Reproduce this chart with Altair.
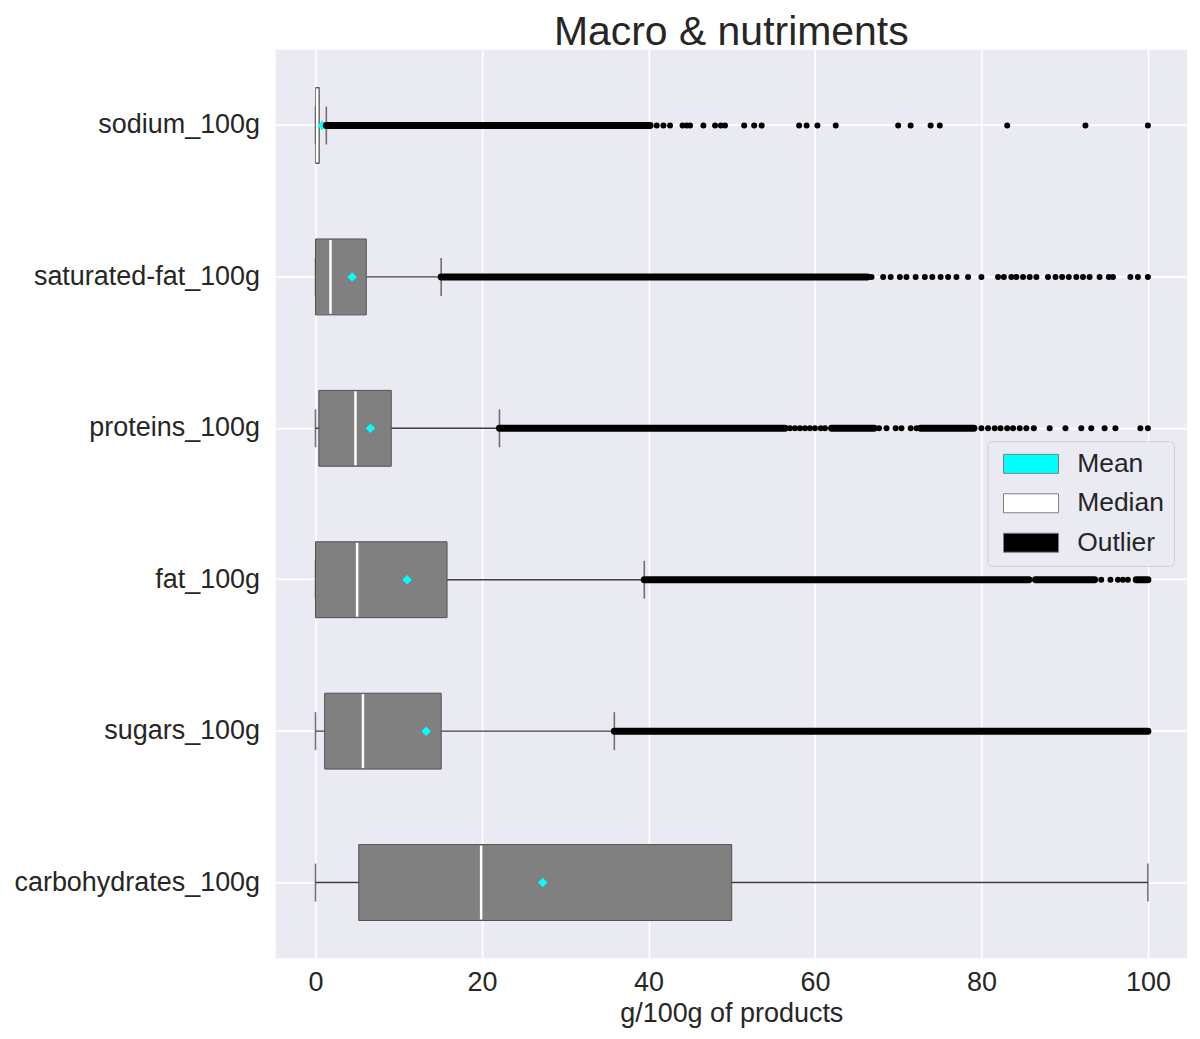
import altair as alt
import pandas as pd

categories = ["sodium_100g", "saturated-fat_100g", "proteins_100g",
              "fat_100g", "sugars_100g", "carbohydrates_100g"]
whisker_low = [0.0, 0.0, 0.0, 0.0, 0.0, 0.0]
q1 = [0.03, 0.0, 0.4, 0.0, 1.1, 5.2]
median = [0.2, 1.8, 4.8, 5.0, 5.7, 19.9]
q3 = [0.45, 6.1, 9.1, 15.8, 15.1, 50.0]
whisker_high = [1.3, 15.1, 22.1, 39.5, 35.9, 100.0]
means = [0.8, 4.4, 6.6, 11.0, 13.3, 27.3]

# runs of outliers so dense that they merge into a solid band
dense_cat = ["sodium_100g", "saturated-fat_100g", "proteins_100g", "proteins_100g",
             "proteins_100g", "fat_100g", "fat_100g", "fat_100g", "sugars_100g"]
dense_start = [1.3, 15.1, 22.1, 62.0, 72.7, 39.5, 86.5, 98.6, 35.9]
dense_end = [40.2, 66.3, 56.4, 67.1, 79.1, 85.7, 93.6, 100.0, 100.0]

# isolated outliers
sodium_outliers = [41.0, 41.8, 42.6, 44.1, 44.6, 45.0, 46.6, 48.0, 48.7, 49.2, 51.5,
                   52.7, 53.6, 58.1, 59.0, 60.3, 62.5, 70.0, 71.5, 73.9, 75.0, 83.1,
                   92.5, 100.0]
satfat_outliers = [66.8, 68.2, 69.1, 70.2, 71.0, 72.1, 73.2, 74.1, 75.1, 76.0, 77.0,
                   78.4, 80.0, 82.0, 82.7, 83.6, 84.2, 85.0, 85.8, 86.6, 88.0, 88.9,
                   89.7, 90.5, 91.4, 92.2, 93.0, 94.2, 95.3, 95.8, 97.9, 98.8, 100.0]
proteins_outliers = [57.0, 57.6, 58.2, 58.8, 59.4, 60.0, 60.7, 61.2, 67.7, 68.6, 69.7,
                     70.4, 71.5, 72.2, 80.0, 80.8, 81.6, 82.3, 83.1, 83.8, 84.6, 85.4,
                     86.3, 88.2, 90.1, 92.0, 93.2, 94.8, 96.1, 99.1, 100.0]
fat_outliers = [94.4, 95.5, 96.4, 97.0, 97.6]
sugars_outliers = []
carbs_outliers = []

legend_labels = ["Mean", "Median", "Outlier"]
legend_colors = ["#00ffff", "#ffffff", "#000000"]
x_ticks = [0, 20, 40, 60, 80, 100]

FONT = "Liberation Sans"
TXT = "#262626"
BG = "#eaeaf2"

boxes = pd.DataFrame({"cat": categories, "lo": whisker_low, "q1": q1, "med": median,
                      "q3": q3, "hi": whisker_high, "mean": means})
dense = pd.DataFrame({"cat": dense_cat, "start": dense_start, "end": dense_end})
out_rows = []
for c, vals in zip(categories, [sodium_outliers, satfat_outliers, proteins_outliers,
                                fat_outliers, sugars_outliers, carbs_outliers]):
    for v in vals:
        out_rows.append({"cat": c, "v": v})
outliers = pd.DataFrame(out_rows)
legend_df = pd.DataFrame({"item": legend_labels})

xscale = alt.Scale(domain=[-4.8, 104.7], nice=False, zero=False)
xaxis = alt.Axis(values=x_ticks, format="d", title="g/100g of products")
yscale = alt.Scale(domain=categories, paddingInner=0, paddingOuter=0)
yaxis = alt.Axis(title=None, bandPosition=0.5, labelPadding=16, labelLimit=0)


def X(f):
    return alt.X(f, type="quantitative", scale=xscale, axis=xaxis, title="g/100g of products")


def Y():
    return alt.Y("cat:N", scale=yscale, axis=yaxis, sort=categories)


whisker = alt.Chart(boxes).mark_rule(color="#3a3a3a", strokeWidth=1.4).encode(
    x=X("lo"), x2="hi:Q", y=Y())
cap_lo = alt.Chart(boxes).mark_tick(orient="vertical", size=38, thickness=1.6,
                                    color="#3a3a3a").encode(x=X("lo"), y=Y())
cap_hi = alt.Chart(boxes).mark_tick(orient="vertical", size=38, thickness=1.6,
                                    color="#3a3a3a").encode(x=X("hi"), y=Y())
box = alt.Chart(boxes).mark_bar(size=76, color="#808080", stroke="#505050",
                                strokeWidth=1).encode(x=X("q1"), x2="q3:Q", y=Y())
med = alt.Chart(boxes).mark_tick(orient="vertical", size=74, thickness=2.5,
                                 color="#ffffff", opacity=1).encode(x=X("med"), y=Y())
dense_band = alt.Chart(dense).mark_rule(strokeWidth=7, strokeCap="round",
                                        color="#000000").encode(
    x=X("start"), x2="end:Q", y=Y())
pts = alt.Chart(outliers).mark_circle(size=36, color="#000000", opacity=1).encode(
    x=X("v"), y=Y())
mean = alt.Chart(boxes).mark_point(shape="diamond", filled=True, size=90,
                                   color="#00ffff", opacity=1).encode(x=X("mean"), y=Y())
legend_layer = alt.Chart(legend_df).mark_point(opacity=0, filled=True).encode(
    color=alt.Color("item:N",
                    scale=alt.Scale(domain=legend_labels, range=legend_colors),
                    legend=alt.Legend(
                        title=None, orient="none", legendX=713, legendY=392,
                        symbolType="M-2.9,-1L2.9,-1L2.9,1L-2.9,1Z", symbolSize=361,
                        symbolOpacity=1, symbolStrokeColor="#808080",
                        symbolStrokeWidth=1, symbolOffset=21, labelOffset=33,
                        labelFontSize=26.5, labelFont=FONT, labelColor=TXT,
                        rowPadding=12.5, padding=9.5, fillColor=BG,
                        strokeColor="#d0d0d0", cornerRadius=5)))

chart = alt.layer(whisker, cap_lo, cap_hi, box, med, mean, dense_band, pts,
                  legend_layer).properties(
    width=913, height=910,
    view=alt.ViewBackground(fill=BG, strokeWidth=0),
    title=alt.TitleParams("Macro & nutriments", fontSize=41, font=FONT, color=TXT,
                          fontWeight="normal", offset=-4),
    padding={"left": 5, "top": 3, "right": 5, "bottom": 5},
).configure_view(fill=BG, strokeWidth=0).configure_axis(
    grid=True, gridColor="#ffffff", gridWidth=1.6, domain=False, ticks=False,
    labelFont=FONT, labelFontSize=27, labelColor=TXT,
    titleFont=FONT, titleFontSize=27, titleColor=TXT, titleFontWeight="normal",
).configure_axisX(labelPadding=11, titlePadding=5)

chart.save("out.html", embed_options={"renderer": "svg", "actions": False})
